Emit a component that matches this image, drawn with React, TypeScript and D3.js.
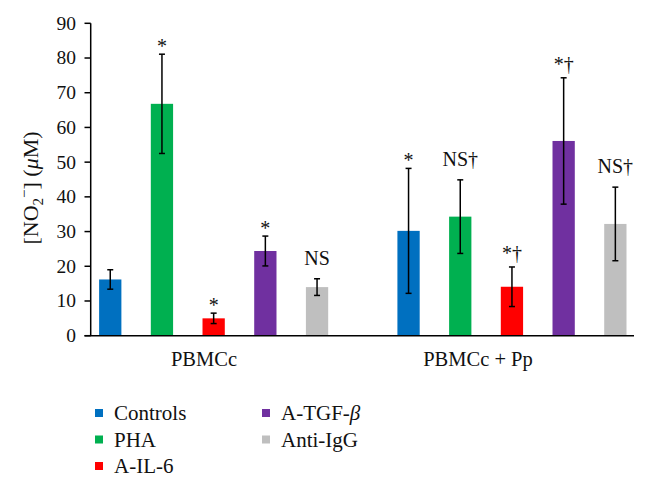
import React from "react";
import * as d3 from "d3";

const groups = ["PBMCc", "PBMCc + Pp"];
const series = ["Controls", "PHA", "A-IL-6", "A-TGF-β", "Anti-IgG"];
const colors = ["#0070C0", "#00B050", "#FF0000", "#7030A0", "#BFBFBF"];
const valuesG1 = [16.2, 66.8, 5.0, 24.4, 14.0];
const errorsG1 = [2.8, 14.3, 1.5, 4.3, 2.4];
const valuesG2 = [30.2, 34.3, 14.1, 56.1, 32.2];
const errorsG2 = [18.0, 10.6, 5.7, 18.2, 10.6];
const labelsG1 = ["", "*", "*", "*", "NS"];
const labelsG2 = ["*", "NS†", "*†", "*†", "NS†"];
const yTicks = [0, 10, 20, 30, 40, 50, 60, 70, 80, 90];

const W = 648;
const H = 485;
const FONT = "Liberation Serif, DejaVu Serif, serif";

export default function App() {
  const y = d3.scaleLinear().domain([0, 90]).range([335.7, 23.3]);
  const x0 = d3.scaleBand().domain(groups).range([64.5, 661.1]);
  const half = 129.25;
  const x1 = d3
    .scaleBand()
    .domain(series)
    .range([-half, half])
    .paddingInner(0.569)
    .paddingOuter(0.2845);
  const labelX = d3.scalePoint().domain(groups).range([204, 478]);
  const axisX = 90.7;
  const baseY = y(0);

  const data = [
    { g: groups[0], vals: valuesG1, errs: errorsG1, labs: labelsG1 },
    { g: groups[1], vals: valuesG2, errs: errorsG2, labs: labelsG2 },
  ];

  const gapFor = (t: string) => {
    if (t === "*") return 1;
    if (t.startsWith("*")) return 7;
    return 14;
  };

  const ts = { fontFamily: FONT } as React.CSSProperties;

  return (
    <svg width={W} height={H} style={{ display: "block", position: "absolute", left: 0, top: 0, fontFamily: FONT }}>
      <rect width={W} height={H} fill="#fff" />
      {data.map((d) => {
        const gc = (x0(d.g) as number) + x0.bandwidth() / 2;
        return (
          <g key={d.g}>
            {d.vals.map((v, i) => {
              const bx = gc + (x1(series[i]) as number);
              const bw = x1.bandwidth();
              const cx = bx + bw / 2;
              const top = y(v + d.errs[i]);
              const bot = y(v - d.errs[i]);
              const lab = d.labs[i];
              return (
                <g key={i}>
                  <rect x={bx} y={y(v)} width={bw} height={baseY - y(v)} fill={colors[i]} />
                  <line x1={cx} x2={cx} y1={top} y2={bot} stroke="#000" strokeWidth={1.5} />
                  <line x1={cx - 3} x2={cx + 3} y1={top} y2={top} stroke="#000" strokeWidth={1.5} />
                  <line x1={cx - 3} x2={cx + 3} y1={bot} y2={bot} stroke="#000" strokeWidth={1.5} />
                  {lab && (
                    <text style={ts} x={cx} y={top - gapFor(lab)} textAnchor="middle" fontSize={20} fill="#111">
                      {lab}
                    </text>
                  )}
                </g>
              );
            })}
          </g>
        );
      })}
      <line x1={axisX} x2={axisX} y1={y(90)} y2={baseY} stroke="#000" strokeWidth={1.5} />
      <line x1={84.5} x2={634} y1={baseY} y2={baseY} stroke="#000" strokeWidth={1.5} />
      {yTicks.map((t) => (
        <g key={t}>
          <line x1={84.5} x2={axisX} y1={y(t)} y2={y(t)} stroke="#000" strokeWidth={1.5} />
          <text style={ts} x={76} y={y(t)} dy="0.33em" textAnchor="end" fontSize={19.5} fill="#111">
            {t}
          </text>
        </g>
      ))}
      {groups.map((g) => (
        <text style={ts} key={g} x={labelX(g)} y={366} textAnchor="middle" fontSize={20.5} fill="#111">
          {g}
        </text>
      ))}
      <text style={ts} transform={`translate(38,188) rotate(-90)`} textAnchor="middle" fontSize={22} fill="#111">
        [NO
        <tspan fontSize={15} dy={5}>2</tspan>
        <tspan fontSize={15} dy={-14}>−</tspan>
        <tspan dy={9}>] (</tspan>
        <tspan fontStyle="italic">μ</tspan>M)
      </text>
      {series.map((s, i) => {
        const col = i < 3 ? 0 : 1;
        const row = i < 3 ? i : i - 3;
        const sx = col === 0 ? 95 : 262;
        const cy = 413 + row * 26.5;
        return (
          <g key={s}>
            <rect x={sx} y={cy - 4} width={8} height={8} fill={colors[i]} />
            <text style={ts} x={sx + 19} y={cy} dy="0.35em" fontSize={21} fill="#111">
              {s.endsWith("β") ? (
                <>
                  {s.slice(0, -1)}
                  <tspan fontStyle="italic">β</tspan>
                </>
              ) : (
                s
              )}
            </text>
          </g>
        );
      })}
    </svg>
  );
}
